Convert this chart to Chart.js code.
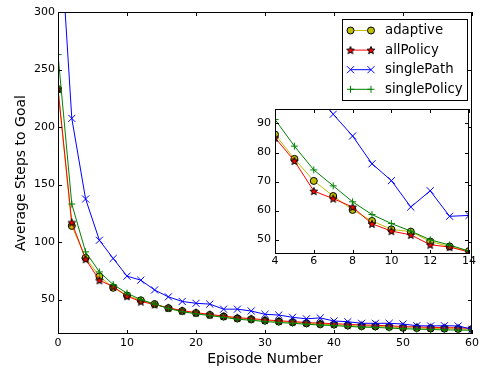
<!DOCTYPE html>
<html>
<head>
<meta charset="utf-8">
<script src="https://cdn.jsdelivr.net/npm/chart.js@4/dist/chart.umd.min.js"></script>
<style>
  html, body { margin: 0; padding: 0; background: #fff; }
  #wrap { position: relative; width: 487px; height: 368px; }
  #main { position: absolute; left: 0; top: 0; }
  #inset { position: absolute; left: 245px; top: 94px; }
</style>
</head>
<body>
<div id="wrap">
  <canvas id="main" width="487" height="368"></canvas>
  <canvas id="inset" width="232" height="178"></canvas>
</div>
<script>
// ---------- data ----------
const seriesNames = ['adaptive', 'allPolicy', 'singlePath', 'singlePolicy'];
const xTitle = 'Episode Number';
const yTitle = 'Average Steps to Goal';

const episodes = [0,2,4,6,8,10,12,14,16,18,20,22,24,26,28,30,32,34,36,38,40,42,44,46,48,50,52,54,56,58,60];
const adaptive     = [233,114,86.2,70.2,60.2,53.5,49.3,46,42.5,40,38.3,36.6,35.2,33.5,32.8,31.6,30.8,30.2,29.3,28.5,28.2,27.4,26.8,26.6,26.1,25.4,25.2,24.8,24.7,24.4,24.3];
const allPolicy    = [233,117,85.1,66.7,61.2,52.9,48.2,45.7,42.8,40.3,38.6,37,35.6,34.2,33.4,32.3,31.5,30.8,30,29.4,29,28.4,27.8,27.6,27.1,26.5,26.1,25.8,25.6,25.3,25];
const singlePath   = [400,207.5,137.4,101.5,85.7,70.3,66.8,58.3,52.3,48.3,46.7,46,41.6,41.6,40,37.1,36.5,34.5,33.2,34,31.3,30.7,29.3,29.3,29.3,28.7,27.2,27,27.2,27,24.1];
const singlePolicy = [263,133,91.4,74,63,55.5,49.9,46,42.2,39.4,37.6,36,34.5,32.8,32,30.8,30,29.3,28.5,27.8,27.3,26.6,26,25.7,25.2,24.6,24.2,23.9,23.6,23.4,23.3];

const insetEpisodes     = [4,5,6,7,8,9,10,11,12,13,14];
const adaptiveInset     = [86.2,77.8,70.2,65,60.2,56.4,53.5,52.7,49.3,47.6,46];
const allPolicyInset    = [85.1,77.1,66.7,64.1,61.2,55.4,52.9,51.6,48.2,47.4,45.7];
const singlePathInset   = [137.4,118,101.5,93.2,85.7,76.1,70.3,61.2,66.8,58,58.3];
const singlePolicyInset = [91.4,82.2,74,68.5,63,58.6,55.5,52.9,49.9,48.1,46];

const xTicks = [0,10,20,30,40,50,60];
const yTicks = [50,100,150,200,250,300];
const insetXTicks = [4,6,8,10,12,14];
const insetYTicks = [50,60,70,80,90];

// ---------- styling ----------
const FONT = 'DejaVu Sans';

function makeStar() {
  const c = document.createElement('canvas');
  c.width = 10; c.height = 10;
  const g = c.getContext('2d');
  g.beginPath();
  for (let i = 0; i < 10; i++) {
    const r = i % 2 ? 1.7 : 4.0;
    const a = -Math.PI / 2 + i * Math.PI / 5;
    g.lineTo(5 + r * Math.cos(a), 5.4 + r * Math.sin(a));
  }
  g.closePath();
  g.fillStyle = '#ff0000';
  g.fill();
  g.strokeStyle = '#000';
  g.lineWidth = 1;
  g.stroke();
  return c;
}
const starImg = makeStar();

const styles = [
  { borderColor: '#bfbf00', pointStyle: 'circle', pointRadius: 3.5, pointBackgroundColor: '#bfbf00', pointBorderColor: '#000', pointBorderWidth: 1, order: 4 },
  { borderColor: '#ff0000', pointStyle: starImg, pointRadius: 4, pointBackgroundColor: '#ff0000', pointBorderColor: '#000', pointBorderWidth: 1, order: 3 },
  { borderColor: '#0000ff', pointStyle: 'crossRot', pointRadius: 5, pointBackgroundColor: '#0000ff', pointBorderColor: '#0000ff', pointBorderWidth: 1, order: 2 },
  { borderColor: '#008000', pointStyle: 'cross', pointRadius: 3.5, pointBackgroundColor: '#008000', pointBorderColor: '#008000', pointBorderWidth: 1, order: 1 }
];

function buildDatasets(xs, lists) {
  return lists.map((vals, i) => Object.assign({
    label: seriesNames[i],
    data: xs.map((x, j) => ({ x: x, y: vals[j] })),
    borderWidth: 1,
    fill: false,
    tension: 0,
    clip: 0,
    pointHoverRadius: styles[i].pointRadius
  }, styles[i]));
}

// ---------- plugins ----------
const bgPlugin = {
  id: 'bg',
  beforeDraw(chart, args, opts) {
    const ctx = chart.ctx;
    ctx.save();
    ctx.fillStyle = '#fff';
    if (opts.full) {
      ctx.fillRect(0, 0, chart.width, chart.height);
    } else {
      const a = chart.chartArea;
      ctx.fillRect(a.left, a.top, a.right - a.left, a.bottom - a.top);
    }
    ctx.restore();
  }
};

const framePlugin = {
  id: 'frame',
  afterDatasetsDraw(chart) {
    const { ctx, chartArea: a, scales: { x, y } } = chart;
    const L = 4;
    ctx.save();
    ctx.strokeStyle = '#000';
    ctx.lineWidth = 1;
    ctx.beginPath();
    x.ticks.forEach(t => {
      const px = Math.round(x.getPixelForValue(t.value)) + 0.5;
      ctx.moveTo(px, a.bottom); ctx.lineTo(px, a.bottom - L);
      ctx.moveTo(px, a.top); ctx.lineTo(px, a.top + L);
    });
    y.ticks.forEach(t => {
      const py = Math.round(y.getPixelForValue(t.value)) + 0.5;
      ctx.moveTo(a.left, py); ctx.lineTo(a.left + L, py);
      ctx.moveTo(a.right, py); ctx.lineTo(a.right - L, py);
    });
    ctx.stroke();
    ctx.strokeRect(a.left + 0.5, a.top + 0.5, a.right - a.left - 1, a.bottom - a.top - 1);
    ctx.restore();
  }
};

function drawMarker(ctx, ds, x, y) {
  const st = ds.pointStyle;
  const r = ds.pointRadius;
  ctx.save();
  ctx.lineWidth = ds.pointBorderWidth;
  ctx.strokeStyle = ds.pointBorderColor;
  ctx.fillStyle = ds.pointBackgroundColor;
  if (typeof st === 'object') {
    ctx.drawImage(st, x - st.width / 2, y - st.height / 2);
  } else if (st === 'circle') {
    ctx.beginPath(); ctx.arc(x, y, r, 0, Math.PI * 2); ctx.fill(); ctx.stroke();
  } else if (st === 'crossRot') {
    const d = r * Math.SQRT1_2;
    ctx.beginPath();
    ctx.moveTo(x - d, y - d); ctx.lineTo(x + d, y + d);
    ctx.moveTo(x - d, y + d); ctx.lineTo(x + d, y - d);
    ctx.stroke();
  } else if (st === 'cross') {
    ctx.beginPath();
    ctx.moveTo(x - r, y); ctx.lineTo(x + r, y);
    ctx.moveTo(x, y - r); ctx.lineTo(x, y + r);
    ctx.stroke();
  }
  ctx.restore();
}

const legendPlugin = {
  id: 'boxLegend',
  afterDraw(chart) {
    const { ctx, chartArea: a } = chart;
    const w = 125, h = 81;
    const left = a.right - 5 - w, top = a.top + 7;
    ctx.save();
    ctx.fillStyle = '#fff';
    ctx.fillRect(left, top, w, h);
    ctx.strokeStyle = '#000';
    ctx.lineWidth = 1;
    ctx.strokeRect(Math.round(left) + 0.5, Math.round(top) + 0.5, w, h);
    const dsList = chart.data.datasets;
    dsList.forEach((ds, i) => {
      const cy = top + 11.5 + i * 19.6;
      const x1 = left + 8.5, x2 = left + 29;
      ctx.strokeStyle = ds.borderColor;
      ctx.lineWidth = 1;
      ctx.beginPath(); ctx.moveTo(x1, cy); ctx.lineTo(x2, cy); ctx.stroke();
      drawMarker(ctx, ds, x1, cy);
      drawMarker(ctx, ds, x2, cy);
      ctx.fillStyle = '#000';
      ctx.font = '13.3px "' + FONT + '"';
      ctx.textBaseline = 'middle';
      ctx.textAlign = 'left';
      ctx.fillText(ds.label, left + 43, cy);
    });
    ctx.restore();
  }
};

function axis(min, max, ticks, fit, tickPad, titleText, titlePad) {
  return {
    type: 'linear', min: min, max: max,
    afterBuildTicks: s => { s.ticks = ticks.map(v => ({ value: v })); },
    afterFit: fit,
    grid: { display: false, drawTicks: false },
    border: { display: false },
    ticks: { padding: tickPad, color: '#000', font: { family: FONT, size: 11 }, maxRotation: 0, autoSkip: false },
    title: titleText ? { display: true, text: titleText, color: '#000', font: { family: FONT, size: 14 }, padding: titlePad } : { display: false }
  };
}

Chart.defaults.font.family = FONT;

new Chart(document.getElementById('main'), {
  type: 'line',
  data: { datasets: buildDatasets(episodes, [adaptive, allPolicy, singlePath, singlePolicy]) },
  options: {
    responsive: false, animation: false, devicePixelRatio: 1,
    layout: { padding: { left: 0, top: 12, right: 15, bottom: 0 } },
    plugins: { legend: { display: false }, tooltip: { enabled: false }, bg: { full: true } },
    events: [],
    scales: {
      x: axis(0, 60, xTicks, s => { s.height = 34; }, 3, xTitle, { top: 0, bottom: 0 }),
      y: axis(20, 300, yTicks, s => { s.width = 58; }, 3, yTitle, { top: 13, bottom: 0 })
    }
  },
  plugins: [bgPlugin, framePlugin, legendPlugin]
});

new Chart(document.getElementById('inset'), {
  type: 'line',
  data: { datasets: buildDatasets(insetEpisodes, [adaptiveInset, allPolicyInset, singlePathInset, singlePolicyInset]) },
  options: {
    responsive: false, animation: false, devicePixelRatio: 1,
    layout: { padding: { left: 0, top: 15, right: 8, bottom: 0 } },
    plugins: { legend: { display: false }, tooltip: { enabled: false }, bg: { full: false } },
    events: [],
    scales: {
      x: axis(4, 14, insetXTicks, s => { s.height = 18; }, 1, null, null),
      y: axis(45, 95, insetYTicks, s => { s.width = 30; }, 4, null, null)
    }
  },
  plugins: [bgPlugin, framePlugin]
});
</script>
</body>
</html>
